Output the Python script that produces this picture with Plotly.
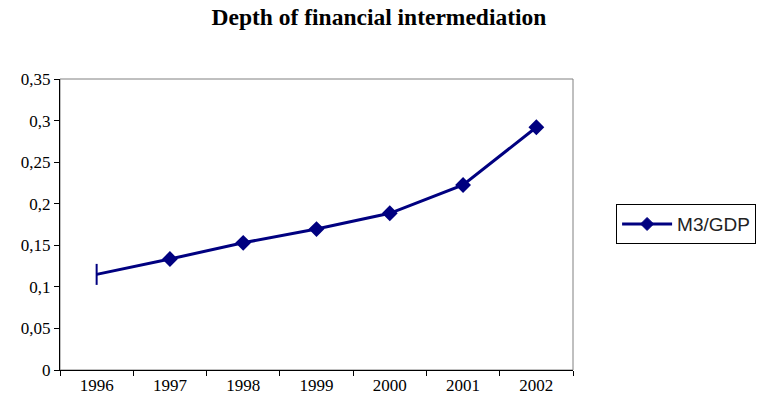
import plotly.graph_objects as go

years = ["1996", "1997", "1998", "1999", "2000", "2001", "2002"]
m3_gdp = [0.115, 0.1335, 0.153, 0.1695, 0.1885, 0.2225, 0.292]
series_name = "M3/GDP"
title = "Depth of financial intermediation"
y_ticks = [0, 0.05, 0.1, 0.15, 0.2, 0.25, 0.3, 0.35]

navy = "#000080"
symbols = ["line-ns"] + ["diamond"] * (len(years) - 1)

fig = go.Figure()
fig.add_trace(go.Scatter(
    x=years, y=m3_gdp, mode="lines+markers", showlegend=False,
    line=dict(color=navy, width=3),
    marker=dict(symbol=symbols, size=[15] + [10] * (len(years) - 1),
                color=navy, opacity=1, line=dict(color=navy, width=2)),
))
fig.add_trace(go.Scatter(
    x=[None], y=[None], mode="lines+markers", name=series_name,
    line=dict(color=navy, width=3),
    marker=dict(symbol="diamond", size=10, color=navy, opacity=1,
                line=dict(color=navy, width=1)),
))

fig.update_layout(
    width=769, height=412,
    margin=dict(l=60, r=196, t=79, b=42),
    paper_bgcolor="white", plot_bgcolor="white",
    separators=", ",
    title=dict(text="<b>" + title + "</b>", x=0.4928, xanchor="center", y=0.9587, yanchor="middle",
               font=dict(family="Liberation Serif", size=23.5, color="black")),
    font=dict(family="Liberation Serif", size=17, color="black"),
    xaxis=dict(type="category", tickson="boundaries", ticks="outside", ticklen=5,
               tickcolor="black", showline=True, linecolor="black", linewidth=1,
               showgrid=False, zeroline=False, range=[-0.5, 6.5],
               tickfont=dict(family="Liberation Serif", size=17)),
    yaxis=dict(range=[0, 0.35], tickvals=y_ticks, ticks="outside", ticklen=5,
               tickcolor="black", showline=True, linecolor="black", linewidth=1,
               showgrid=False, zeroline=False,
               tickfont=dict(family="Liberation Serif", size=17)),
    legend=dict(x=1.084, y=0.57, xanchor="left", yanchor="top",
                bordercolor="black", borderwidth=1, bgcolor="white",
                itemwidth=50,
                font=dict(family="Liberation Sans", size=19, color="#222222")),
    shapes=[dict(type="rect", xref="paper", yref="paper", x0=0, x1=1, y0=0, y1=1,
                 line=dict(color="#808080", width=1), layer="below")],
)

fig.write_html("out.html", config={"displayModeBar": False},
               post_script="document.body.style.margin='0px';")
